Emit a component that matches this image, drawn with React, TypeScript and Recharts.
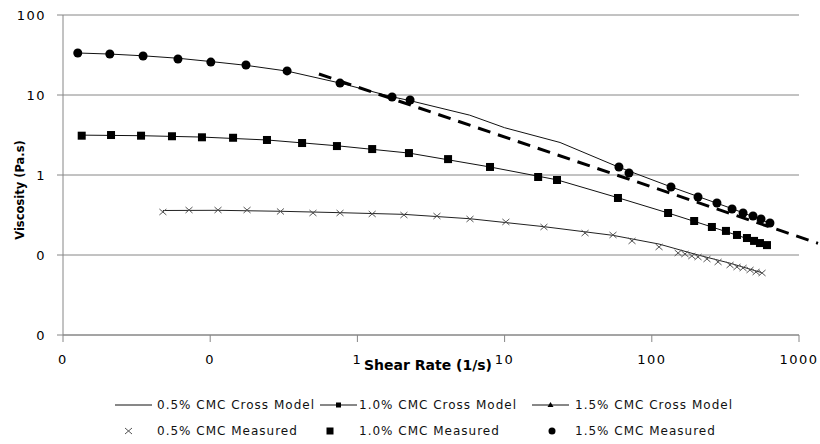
import React from 'react';
import {
  ComposedChart,
  Line,
  Scatter,
  XAxis,
  YAxis,
  CartesianGrid,
  ReferenceLine,
  Legend,
} from 'recharts';

// Axis ticks (decades on both log axes)
const xTicks = [0.01, 0.1, 1, 10, 100, 1000];
const yTicks = [0.01, 0.1, 1, 10, 100];

// 0.5% CMC measured: shear rate (1/s) and viscosity (Pa.s)
const rate05 = [0.0477, 0.0718, 0.113, 0.178, 0.3, 0.499, 0.762, 1.26, 2.07, 3.47, 5.82, 10.2, 18.5, 35.2, 54.5, 73.4, 112, 151, 168, 187, 206, 237, 282, 340, 379, 417, 465, 511, 561];
const visc05 = [0.345, 0.365, 0.365, 0.365, 0.35, 0.335, 0.335, 0.326, 0.316, 0.307, 0.282, 0.259, 0.224, 0.188, 0.178, 0.15, 0.126, 0.106, 0.103, 0.0972, 0.0944, 0.0891, 0.0818, 0.075, 0.0708, 0.0688, 0.065, 0.0613, 0.0596];

// 1.0% CMC measured
const rate10 = [0.0134, 0.0212, 0.0339, 0.055, 0.0879, 0.143, 0.243, 0.421, 0.726, 1.26, 2.24, 4.13, 7.96, 16.9, 22.7, 58.9, 129, 194, 256, 319, 379, 443, 495, 543, 606];
const visc10 = [3.1, 3.16, 3.1, 3.05, 2.96, 2.92, 2.74, 2.51, 2.3, 2.11, 1.88, 1.58, 1.26, 0.944, 0.866, 0.516, 0.335, 0.266, 0.224, 0.2, 0.178, 0.163, 0.15, 0.141, 0.133];

// 1.5% CMC measured
const rate15 = [0.0126, 0.0208, 0.035, 0.0604, 0.101, 0.175, 0.333, 0.762, 1.72, 2.28, 59.8, 70, 135, 206, 277, 351, 417, 487, 552, 635];
const visc15 = [33.5, 32.5, 30.7, 28.2, 25.8, 23.7, 20.0, 14.1, 9.44, 8.66, 1.26, 1.06, 0.708, 0.531, 0.447, 0.376, 0.335, 0.307, 0.282, 0.251];

// Cross model curves
const modelRate05 = [0.0477, 0.113, 0.3, 0.762, 2.07, 5.82, 18.5, 54.5, 112, 206, 340, 561];
const modelVisc05 = [0.36, 0.362, 0.352, 0.338, 0.322, 0.284, 0.226, 0.176, 0.137, 0.1, 0.079, 0.06];

const modelRate10 = [0.0134, 0.0339, 0.0879, 0.243, 0.726, 2.24, 7.96, 22.7, 58.9, 129, 256, 606];
const modelVisc10 = [3.15, 3.1, 2.98, 2.74, 2.32, 1.88, 1.26, 0.87, 0.52, 0.335, 0.224, 0.133];

const modelRate15 = [0.0126, 0.0208, 0.035, 0.0604, 0.101, 0.175, 0.333, 0.762, 1.72, 2.28, 5.79, 10, 23.8, 59.8, 135, 351, 635];
const modelVisc15 = [33.5, 32.5, 30.9, 28.8, 26.2, 23.5, 19.9, 14.1, 9.5, 8.5, 5.6, 3.9, 2.55, 1.25, 0.71, 0.38, 0.25];

// Power-law fit (dashed), end points
const powerRate = [0.548, 1346];
const powerVisc = [18.3, 0.14];

// Legend labels
const modelLabels = ['0.5% CMC Cross Model', '1.0% CMC Cross Model', '1.5% CMC Cross Model'];
const measuredLabels = ['0.5% CMC Measured', '1.0% CMC Measured', '1.5% CMC Measured'];

const zip = (xs: number[], ys: number[]) => xs.map((x, i) => ({ x, y: ys[i] }));

const GRID = '#868686';
const FONT = 'DejaVu Sans, Verdana, sans-serif';

const CrossMark = (p: any) => (
  <g>
    <line x1={p.cx - 3.5} y1={p.cy - 3} x2={p.cx + 3.5} y2={p.cy + 3} stroke="#555" strokeWidth={1} />
    <line x1={p.cx - 3.5} y1={p.cy + 3} x2={p.cx + 3.5} y2={p.cy - 3} stroke="#555" strokeWidth={1} />
  </g>
);
const SquareMark = (p: any) => <rect x={p.cx - 4} y={p.cy - 4} width={8} height={8} fill="#000" />;
const CircleMark = (p: any) => <circle cx={p.cx} cy={p.cy} r={4.5} fill="#000" />;

// Model markers sit only at the measured shear rates
const SmallSquareDot = (p: any) =>
  rate10.includes(p.payload?.x) ? (
    <rect key={`sq-${p.index}`} x={p.cx - 2.5} y={p.cy - 2.5} width={5} height={5} fill="#000" />
  ) : (
    <g key={`sq-${p.index}`} />
  );
const SmallTriangleDot = (p: any) =>
  rate15.includes(p.payload?.x) ? (
    <path
      key={`tr-${p.index}`}
      d={`M${p.cx},${p.cy - 3.5}L${p.cx + 3.5},${p.cy + 2.5}L${p.cx - 3.5},${p.cy + 2.5}Z`}
      fill="#000"
    />
  ) : (
    <g key={`tr-${p.index}`} />
  );

const legendText = { fontSize: 12, letterSpacing: 1, fill: '#111', fontFamily: FONT } as const;

const LegendBox = () => {
  const row1 = 15;
  const row2 = 41;
  const cols = [
    { lx: 115, tx: 157 },
    { lx: 320, tx: 359 },
    { lx: 532, tx: 575 },
  ];
  return (
    <svg width={820} height={54} style={{ display: 'block' }}>
      {/* model line samples */}
      {cols.map((c, i) => (
        <g key={`m${i}`}>
          <line x1={c.lx} y1={row1} x2={c.lx + 37} y2={row1} stroke="#111" strokeWidth={1} />
          {i === 1 && <rect x={c.lx + 16} y={row1 - 2.5} width={5} height={5} fill="#000" />}
          {i === 2 && (
            <path d={`M${c.lx + 18.5},${row1 - 3}L${c.lx + 21.5},${row1 + 2}L${c.lx + 15.5},${row1 + 2}Z`} fill="#000" />
          )}
          <text x={c.tx} y={row1} dominantBaseline="central" {...legendText}>
            {modelLabels[i]}
          </text>
        </g>
      ))}
      {/* measured marker samples */}
      <line x1={125} y1={row2 - 3} x2={132} y2={row2 + 3} stroke="#555" />
      <line x1={125} y1={row2 + 3} x2={132} y2={row2 - 3} stroke="#555" />
      <rect x={326.5} y={row2 - 3.5} width={7} height={7} fill="#000" />
      <circle cx={552} cy={row2} r={3.5} fill="#000" />
      {cols.map((c, i) => (
        <text key={`t${i}`} x={c.tx} y={row2} dominantBaseline="central" {...legendText}>
          {measuredLabels[i]}
        </text>
      ))}
    </svg>
  );
};

const fmt = (v: number) => String(Math.round(v));

export default function App() {
  return (
    <div style={{ position: 'absolute', left: 0, top: 0, width: 820, height: 444, background: '#fff', fontFamily: FONT }}>
      <ComposedChart width={820} height={444} margin={{ top: 15, right: 21, left: 0, bottom: 69 }}>
        <CartesianGrid vertical={false} stroke={GRID} strokeWidth={1} />
        <XAxis
          dataKey="x"
          type="number"
          scale="log"
          domain={[0.01, 1000]}
          ticks={xTicks}
          allowDataOverflow
          tickFormatter={fmt}
          height={40}
          stroke={GRID}
          tickSize={7}
          tickMargin={13}
          tick={{ fontSize: 13, fill: '#000', fontFamily: FONT, letterSpacing: 1.5 }}
          label={{
            content: (props: any) => {
              const vb = props.viewBox || { x: 63, y: 335, width: 736 };
              return (
                <text
                  x={vb.x + vb.width / 2 - 3}
                  y={vb.y + 35}
                  textAnchor="middle"
                  fontSize={14}
                  fontWeight="bold"
                  fontFamily={FONT}
                  fill="#000"
                >
                  Shear Rate (1/s)
                </text>
              );
            },
          }}
        />
        <YAxis
          dataKey="y"
          type="number"
          scale="log"
          domain={[0.01, 100]}
          ticks={yTicks}
          allowDataOverflow
          tickFormatter={fmt}
          width={63}
          stroke={GRID}
          tickSize={6}
          tickMargin={11}
          tick={{ fontSize: 13, fill: '#000', fontFamily: FONT, letterSpacing: 1.5 }}
          label={{
            content: (props: any) => {
              const vb = props.viewBox || { x: 0, y: 15, height: 320 };
              const cx = vb.x + 20;
              const cy = vb.y + vb.height / 2 + 15;
              return (
                <text
                  x={cx}
                  y={cy}
                  transform={`rotate(-90, ${cx}, ${cy})`}
                  textAnchor="middle"
                  dominantBaseline="central"
                  fontSize={11.5}
                  fontWeight="bold"
                  fontFamily={FONT}
                  fill="#000"
                >
                  Viscosity (Pa.s)
                </text>
              );
            },
          }}
        />
        <Line
          data={zip(modelRate05, modelVisc05)}
          dataKey="y"
          type="linear"
          stroke="#222"
          strokeWidth={1}
          dot={false}
          isAnimationActive={false}
        />
        <Line
          data={zip(modelRate10, modelVisc10)}
          dataKey="y"
          type="linear"
          stroke="#111"
          strokeWidth={1}
          dot={SmallSquareDot}
          isAnimationActive={false}
        />
        <Line
          data={zip(modelRate15, modelVisc15)}
          dataKey="y"
          type="linear"
          stroke="#111"
          strokeWidth={1}
          dot={SmallTriangleDot}
          isAnimationActive={false}
        />
        <ReferenceLine
          segment={[
            { x: powerRate[0], y: powerVisc[0] },
            { x: powerRate[1], y: powerVisc[1] },
          ]}
          ifOverflow="visible"
          stroke="#000"
          strokeWidth={3}
          strokeDasharray="13 8"
        />
        <Scatter data={zip(rate05, visc05)} shape={CrossMark} isAnimationActive={false} />
        <Scatter data={zip(rate10, visc10)} shape={SquareMark} isAnimationActive={false} />
        <Scatter data={zip(rate15, visc15)} shape={CircleMark} isAnimationActive={false} />
        <Legend
          layout="horizontal"
          verticalAlign="middle"
          align="center"
          wrapperStyle={{ top: 390, left: 0, width: 820, height: 54 }}
          content={() => <LegendBox />}
        />
      </ComposedChart>
    </div>
  );
}
